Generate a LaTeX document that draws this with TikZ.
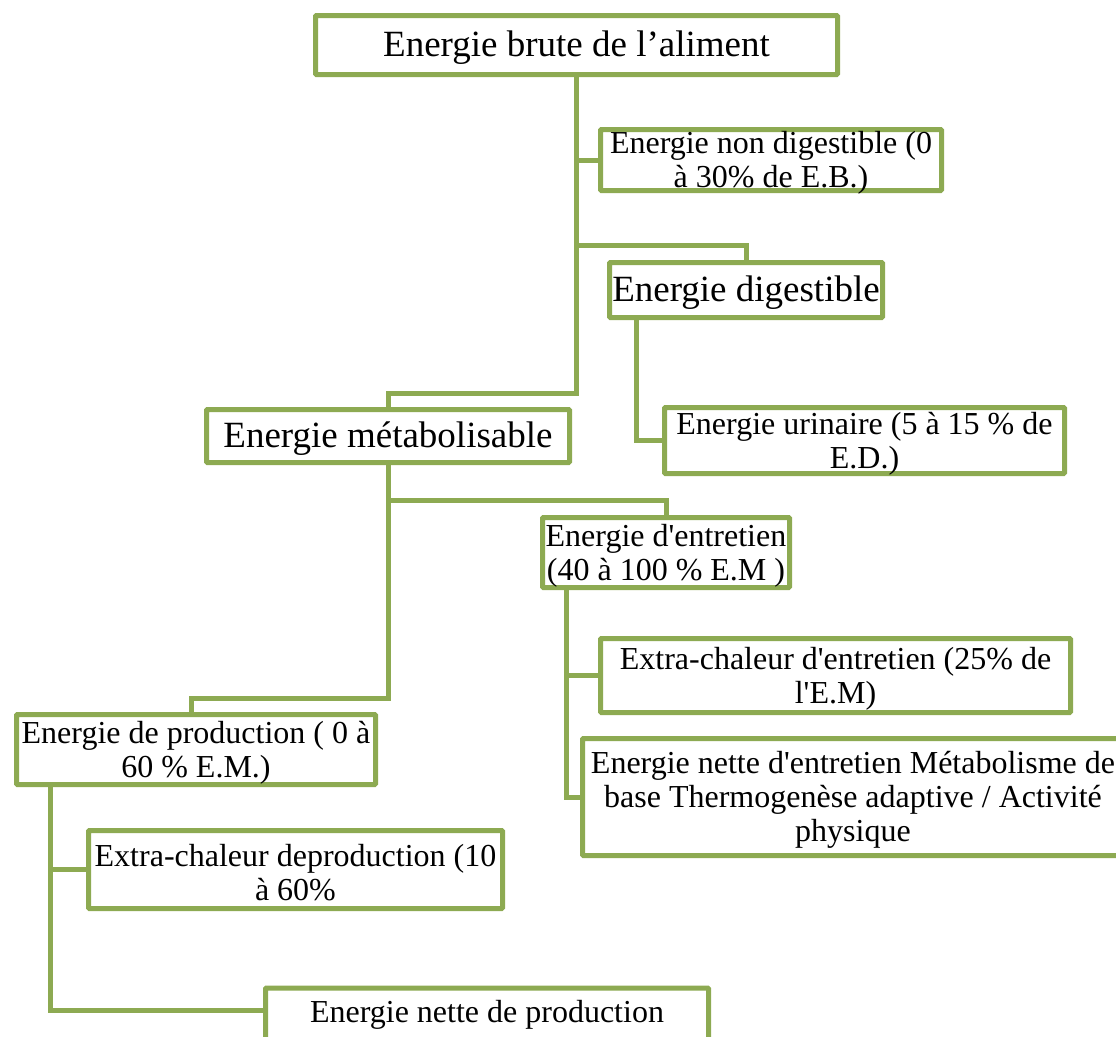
\documentclass[tikz,border=0pt]{standalone}
\usepackage{fontspec}
\setmainfont{Liberation Serif}
\definecolor{olive}{RGB}{141,170,82}
\newcommand{\ap}{\textquotesingle}
\begin{document}
\begin{tikzpicture}[x=1pt,y=-1pt,
  box/.style={draw=olive,line width=5pt,rounded corners=1pt,fill=white,
    inner sep=0pt,minimum width=#1},
  txt/.style={inner sep=0pt,align=center,yshift=-3pt},
  big/.style={txt,font=\fontsize{37}{40}\selectfont},
  small/.style={txt,font=\fontsize{32}{34}\selectfont},
  link/.style={draw=olive,line width=5pt}]
\useasboundingbox (0,0) rectangle (1116,1036);
\begin{scope}
\clip (0,0) rectangle (1116,1036);

% tree boxes, each with its text set on the box centre
\node[box=522,minimum height=59,label={[big]center:{Energie brute de l’aliment}}] (top) at (576.5,45) {};
\node[box=341,minimum height=61,label={[small]center:{Energie non digestible (0\\à 30\% de E.B.)}}] (nondig) at (771,160) {};
\node[box=273,minimum height=55,label={[big]center:{Energie digestible}}] (dig) at (746,290) {};
\node[box=400,minimum height=66,label={[small]center:{Energie urinaire (5 à 15 \% de\\E.D.)}}] (urin) at (864.5,440.5) {};
\node[box=363,minimum height=53,label={[big]center:{Energie métabolisable}}] (metab) at (388,436) {};
\node[box=247,minimum height=70,label={[small]center:{Energie d\ap entretien\\(40 à 100 \% E.M )}}] (entr) at (666,552.5) {};
\node[box=470,minimum height=74,label={[small]center:{Extra-chaleur d\ap entretien (25\% de\\l\ap E.M)}}] (exent) at (835.5,675.5) {};
\node[box=541,minimum height=117,label={[small]center:{Energie nette d\ap entretien Métabolisme de\\base Thermogenèse adaptive / Activité\\physique}}] (nettent) at (853,797) {};
\node[box=359,minimum height=70,label={[small]center:{Energie de production ( 0 à\\60 \% E.M.)}}] (prod) at (196,749.5) {};
\node[box=414,minimum height=78,label={[small]center:{Extra-chaleur deproduction (10\\à 60\%}}] (exprod) at (295.5,869.5) {};
\node[box=443,minimum height=58,anchor=north] (nettprod) at (487,985.5) {};
\node[small,yshift=0pt] (nettprodtxt) at (487,1012) {Energie nette de production};

% connectors
\draw[link] (top.south) |- (nondig.west);
\draw[link] (top.south) |- ([yshift=15pt]dig.north) -- (dig.north);
\draw[link] (top.south) |- ([yshift=14pt]metab.north) -- (metab.north);
\draw[link] ([xshift=-110pt]dig.south) |- (urin.west);
\draw[link] (metab.south) |- ([yshift=15pt]entr.north) -- (entr.north);
\draw[link] (metab.south) |- ([yshift=14pt,xshift=-5pt]prod.north) -- ([xshift=-5pt]prod.north);
\draw[link] ([xshift=-100pt]entr.south) |- (exent.west);
\draw[link] ([xshift=-100pt]entr.south) |- (nettent.west);
\draw[link] ([xshift=-146pt]prod.south) |- (exprod.west);
\draw[link] ([xshift=-146pt]prod.south) |- ([yshift=7pt]nettprod.west);
\end{scope}
\end{tikzpicture}
\end{document}
